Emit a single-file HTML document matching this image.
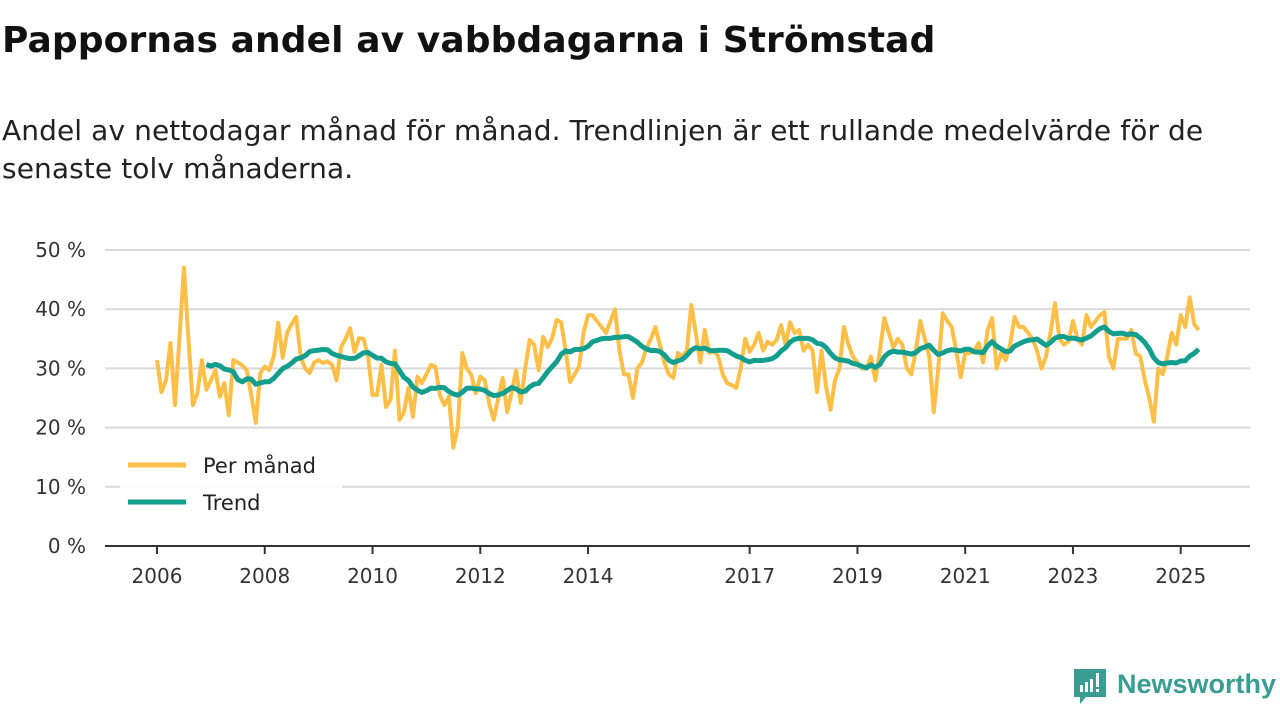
<!DOCTYPE html>
<html><head><meta charset="utf-8"><style>
body{margin:0;width:1280px;height:720px;background:#fff;font-family:"DejaVu Sans","Liberation Sans",sans-serif;overflow:hidden;position:relative}
h1{position:absolute;left:2px;top:20px;margin:0;font-size:36px;font-weight:bold;color:#111;white-space:nowrap;letter-spacing:0.1px}
p{position:absolute;left:2px;top:112px;margin:0;font-size:28px;line-height:38px;color:#222;white-space:nowrap;letter-spacing:0.1px}
</style></head><body>
<h1>Pappornas andel av vabbdagarna i Strömstad</h1>
<p>Andel av nettodagar månad för månad. Trendlinjen är ett rullande medelvärde för de<br>senaste tolv månaderna.</p>
<svg id="chart" width="1280" height="720" style="position:absolute;left:0;top:0" font-family="DejaVu Sans, Liberation Sans, sans-serif"></svg>
<script>
const startYear = 2006;
const yTicks = [0,10,20,30,40,50];
const xTickYears = [2006,2008,2010,2012,2014,2017,2019,2021,2023,2025];
const perMonth = [
31.4,26,28,34.3,23.8,35,47,35,23.8,25.8,31.4,26.4,
28,29.7,25.2,27.5,22.1,31.4,31,30.5,29.7,25.5,20.8,29.2,
30.3,29.7,32,37.7,31.8,36.1,37.5,38.7,32,30,29.2,31,
31.4,30.9,31.2,30.6,28,33.6,35,36.8,32.8,35.1,35,32,
25.5,25.5,30.6,23.5,24.7,33,21.3,22.6,26.7,21.8,28.6,27.5,
29,30.6,30.3,25.5,23.8,25.2,16.6,20.1,32.6,30,28.9,25.8,
28.6,28,24,21.3,25,28.4,22.6,26,29.7,24.2,30,34.8,
34,29.7,35.3,33.6,35.1,38.2,37.8,33.1,27.7,29,30.3,36,
39,39,38,37,36,38,40,33,29,29,25,30,
31,33.4,35,37,34,31,29,28.4,32.6,32,33,40.7,
36,31,36.5,32.6,33,32,29,27.5,27.2,26.7,30,35,
32.8,34,36,33,34.5,34,34.8,37.3,34,37.8,36,36.5,
33,34,33,26,33,27,23,28,30,37,34,32,
31,30,30,32,28,33,38.5,36,33.5,35,34,30,
29,33,38,35,32,22.6,30,39.3,38,37,33,28.5,
32.6,32.6,33,34.3,31,36.5,38.5,30,32.6,31.4,34,38.7,
37,37,36,35,33,30,32,36,41,35,34,34.5,
38,35,34,39,37,38,39,39.5,32,30,35,35,
35,36.5,32.5,32,28,25,21,30,29,32,36,34,
39,37,42,37.5,36.5
];
const trendWindow = 12;
const NS="http://www.w3.org/2000/svg";
const svg=document.getElementById('chart');
const X0=157, PXM=4.49, Y0=546, PXP=5.92;
const xs=i=>X0+i*PXM, ys=v=>Y0-v*PXP;
function mk(t,a){const e=document.createElementNS(NS,t);for(const k in a)e.setAttribute(k,a[k]);svg.appendChild(e);return e;}
yTicks.forEach(t=>{
  if(t>0){const g=mk('line',{x1:105,x2:1250,y1:ys(t),y2:ys(t),stroke:'#d9d9d9','stroke-width':2});
  
  }
  const l=mk('text',{x:86,y:ys(t)+7,'text-anchor':'end','font-size':20,fill:'#333'});
  l.textContent=t+' %';
  
  
});
const ax=mk('line',{x1:105,x2:1250,y1:Y0,y2:Y0,stroke:'#333','stroke-width':2});


xTickYears.forEach(yr=>{
  const x=xs((yr-startYear)*12);
  const t=mk('line',{x1:x,x2:x,y1:Y0,y2:Y0+8,stroke:'#333','stroke-width':2});
  
  
  const l=mk('text',{x:x,y:583,'text-anchor':'middle','font-size':20,fill:'#333'});
  l.textContent=yr;
  
  
});
const p1=mk('polyline',{points:perMonth.map((v,i)=>xs(i)+','+ys(v)).join(' '),fill:'none',stroke:'#fdbf47','stroke-width':4,'stroke-linejoin':'round'});


const trend=[];
for(let i=trendWindow-1;i<perMonth.length;i++){let s=0;for(let j=i-trendWindow+1;j<=i;j++)s+=perMonth[j];trend.push([i,s/trendWindow]);}
const p2=mk('polyline',{points:trend.map(([i,v])=>xs(i)+','+ys(v)).join(' '),fill:'none',stroke:'#139e8e','stroke-width':5,'stroke-linejoin':'round'});


const lb=mk('rect',{x:120,y:447,width:222,height:74,fill:'#fff','fill-opacity':0.85});


[['Per månad','#fdbf47',465],['Trend','#139e8e',502]].forEach(([n,c,y])=>{
  const l=mk('line',{x1:128,x2:186,y1:y,y2:y,stroke:c,'stroke-width':5});
  
  
  const t=mk('text',{x:203,y:y+8,'font-size':21,fill:'#222'});
  t.textContent=n;
  
  
});
const logo=mk('g',{});


logo.innerHTML='<path d="M1074 669h32v28h-20l-6 7v-7h-6z" fill="#3a9d93"/><rect x="1080" y="685" width="3" height="7" fill="#fff"/><rect x="1085" y="682" width="3" height="10" fill="#fff"/><rect x="1090" y="679" width="3" height="13" fill="#fff"/><rect x="1096" y="673" width="3" height="14" fill="#fff"/><rect x="1096" y="689" width="3" height="3" fill="#fff"/><text x="1117" y="693" font-size="27" font-weight="bold" fill="#3a9d93" font-family="Liberation Sans, sans-serif">Newsworthy</text>';
</script>
</body></html>
